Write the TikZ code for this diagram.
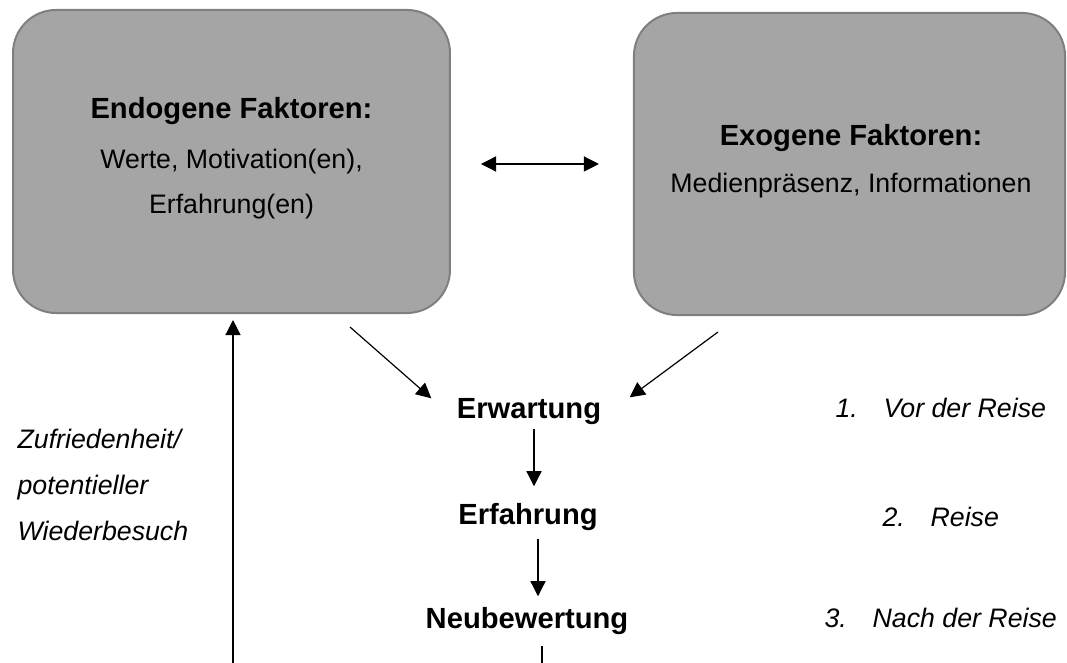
\documentclass[tikz,border=0pt]{standalone}
\usepackage{fontspec}
\setmainfont{Liberation Sans}
\usetikzlibrary{arrows.meta}

\definecolor{boxfill}{HTML}{A5A5A5}
\definecolor{boxborder}{HTML}{7F7F7F}

\tikzset{
  factor/.style={draw=boxborder, fill=boxfill, line width=0.82pt, rounded corners=17.7pt, inner sep=0pt, outer sep=0pt},
  boxtext/.style={anchor=north, align=center, inner sep=0pt, font=\fontsize{11pt}{18.3pt}\selectfont},
  phase/.style={anchor=base, inner sep=0pt, font=\fontsize{12pt}{14pt}\selectfont\bfseries},
  stage/.style={anchor=base west, inner sep=0pt, font=\fontsize{11pt}{13pt}\selectfont\itshape},
}

\begin{document}
\begin{tikzpicture}[x=0.4115pt,y=-0.4115pt,>={Triangle[length=6.2pt,width=6.2pt]},line width=0.49pt]
    \useasboundingbox (0,0) rectangle (1067,663);

    \node[factor, minimum width=179.8pt, minimum height=124.7pt] (endo) at (231.5,161.5) {};
    \node[factor, minimum width=177.4pt, minimum height=124.3pt] (exo) at (849.5,164) {};
    \node[boxtext] (endotxt) at (231.5,97) {{\fontsize{12pt}{18.3pt}\selectfont\bfseries Endogene Faktoren:}\\[2.3pt] Werte, Motivation(en),\\ Erfahrung(en)};
    \node[boxtext] (exotxt) at (851,124) {{\fontsize{12pt}{18.3pt}\selectfont\bfseries Exogene Faktoren:}\\[1pt] Medienpräsenz, Informationen};

    \node[phase] (erw) at (529,419) {Erwartung};
    \node[phase] (erf) at (528,525) {Erfahrung};
    \node[phase] (neu) at (527,629) {Neubewertung};

    \node[stage] (vor)  at (835,417.5) {\makebox[19.75pt][l]{1.}Vor der Reise};
    \node[stage] (reise) at (882,526.5) {\makebox[19.75pt][l]{2.}Reise};
    \node[stage] (nach) at (824,627.5) {\makebox[19.75pt][l]{3.}Nach der Reise};

    \node[anchor=north west, align=left, inner sep=0pt, font=\fontsize{11pt}{18.9pt}\selectfont\itshape] (zufr) at (17,428.5) {Zufriedenheit/\\ potentieller\\ Wiederbesuch};

    \coordinate (bottomL) at (233,663);
    \coordinate (bottomR) at (542,663);

    \path[->]
        ([shift={(31,2.5)}]endo.east) edge[<->] ([shift={(-35,0)}]exo.west)
        ([shift={(-100,14)}]endo.south east) edge ([shift={(-25,0)}]erw.north west)
        ([shift={(84,17)}]exo.south west) edge ([shift={(28,-1)}]erw.north east)
        ([shift={(5,0)}]erw.south) edge[shorten <=1.23pt, shorten >=7pt] ([shift={(6,0)}]erf.north)
        ([shift={(10,0)}]erf.south) edge[shorten <=2.88pt, shorten >=4.53pt] ([shift={(11,0)}]neu.north)
        (bottomL) edge[shorten >=2.88pt] (bottomL |- endo.south)
        ;
    \draw[shorten <=4.12pt] ([shift={(15,0)}]neu.south) -- (bottomR);
\end{tikzpicture}
\end{document}
